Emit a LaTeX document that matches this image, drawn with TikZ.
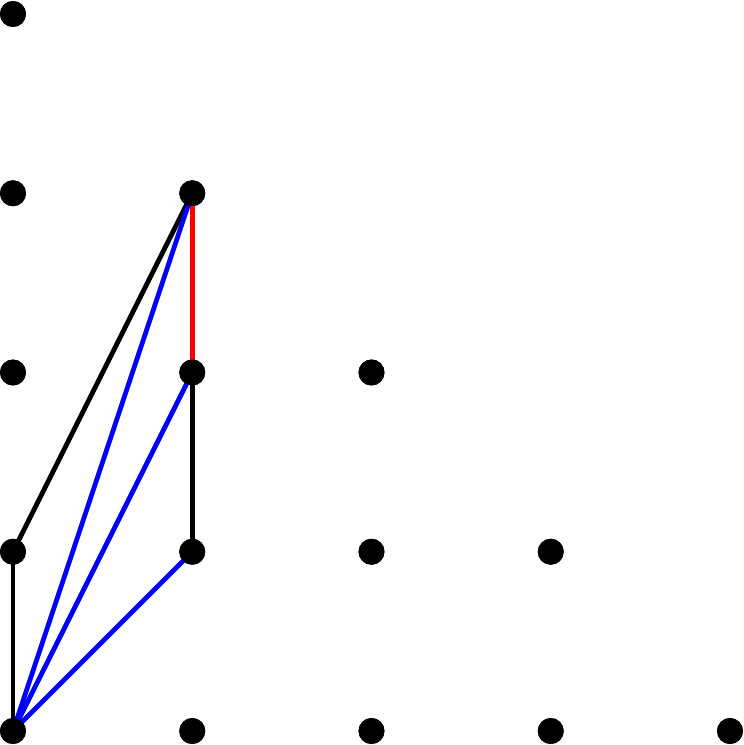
\documentclass[tikz,border=0pt]{standalone}
\begin{document}
\begin{tikzpicture}[x=2cm,y=2cm,
  dot/.style={circle,fill=black,inner sep=0pt,minimum size=0.29cm},
  seg/.style={line width=1.5pt}]
\useasboundingbox (-0.0724,-0.078) rectangle (4.078,4.078);
\foreach \j in {0,...,4}{
  \pgfmathtruncatemacro{\m}{4-\j}
  \foreach \i in {0,...,\m}{
    \node[dot] (p\i\j) at (\i,\j) {};
  }
}
\draw[seg,black] (p00.center) -- (p01.center);
\draw[seg,black] (p01.center) -- (p13.center);
\draw[seg,black] (p12.center) -- (p11.center);
\draw[seg,red] (p13.center) -- (p12.center);
\draw[seg,blue] (p00.center) -- (p11.center);
\draw[seg,blue] (p00.center) -- (p12.center);
\draw[seg,blue] (p00.center) -- (p13.center);
\foreach \j in {0,...,4}{
  \pgfmathtruncatemacro{\m}{4-\j}
  \foreach \i in {0,...,\m}{
    \fill (\i,\j) circle (0.0724);
  }
}
\end{tikzpicture}
\end{document}
